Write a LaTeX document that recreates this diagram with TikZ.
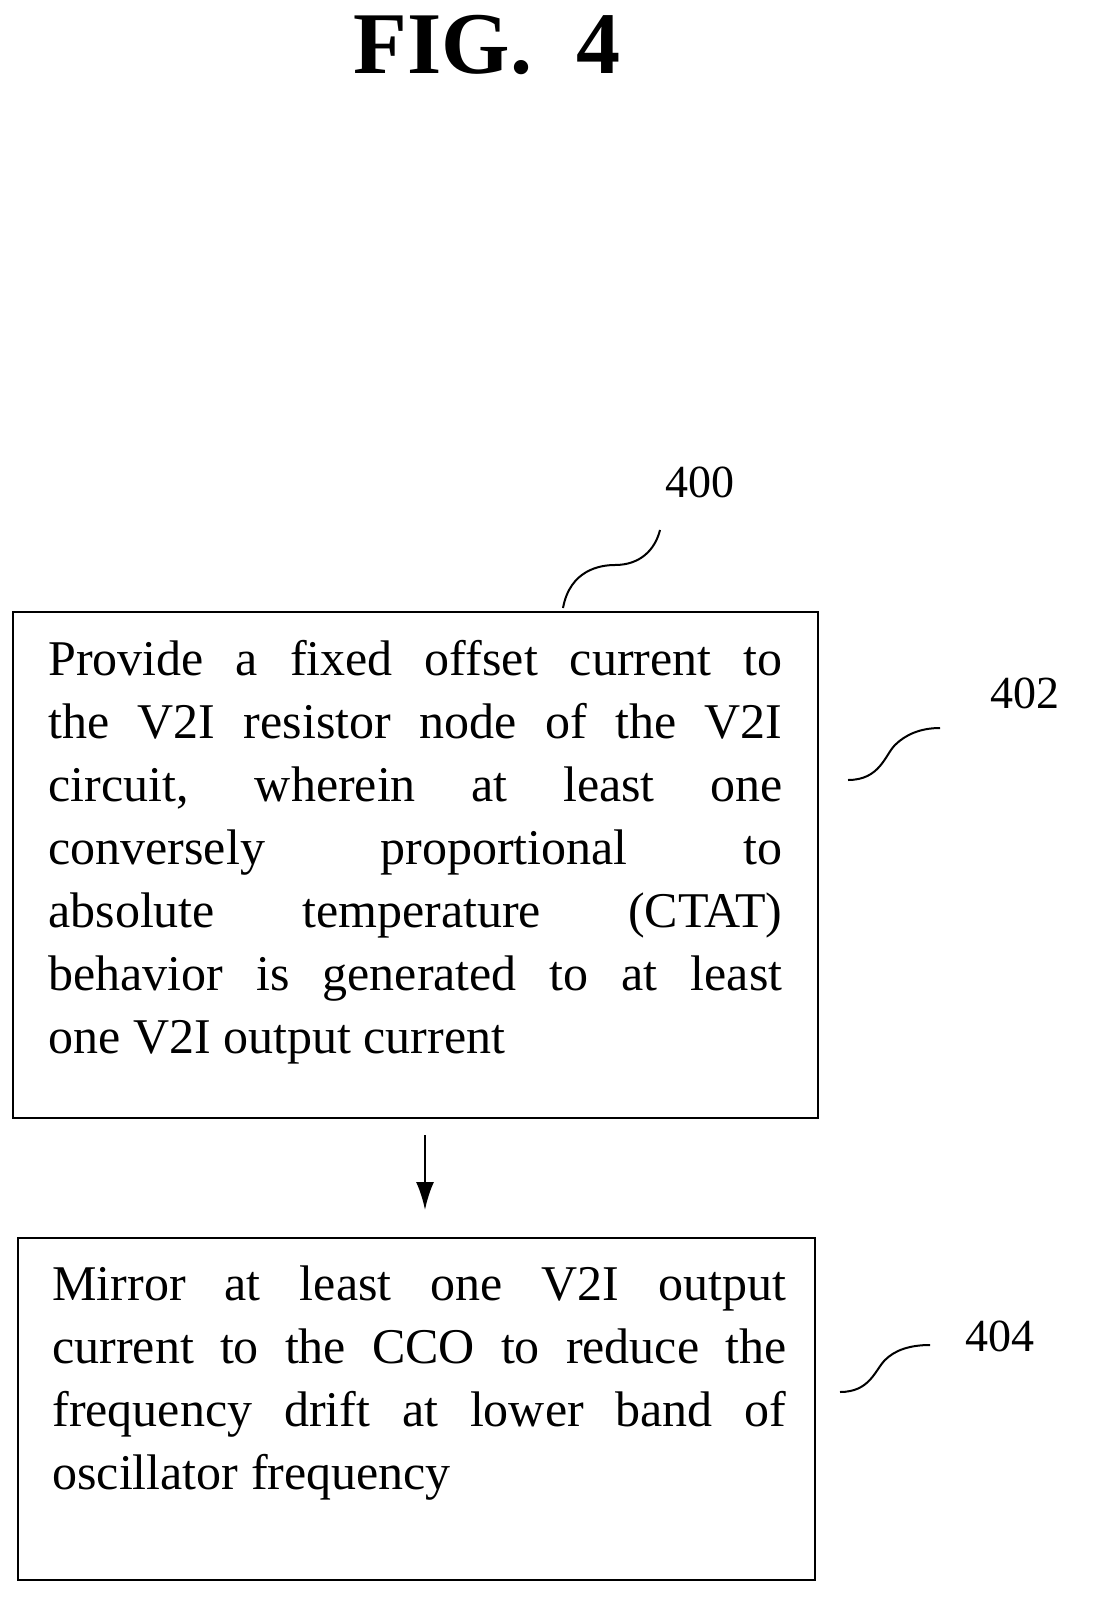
\documentclass[tikz,border=0pt]{standalone}
\usepackage{fontspec}
\setmainfont{Liberation Serif}
\usetikzlibrary{arrows.meta}
\newcommand{\jl}[1]{\makebox[367pt][s]{#1}\\}
\begin{document}
\begin{tikzpicture}[x=0.5pt,y=-0.5pt,
  box/.style={draw,line width=1.2pt},
  txt/.style={align=left,font=\fontsize{25pt}{31.5pt}\selectfont,inner sep=0pt,anchor=north west},
  lbl/.style={font=\fontsize{23pt}{26pt}\selectfont,inner sep=0pt},
  sq/.style={line width=1pt}]
\useasboundingbox (0,0) rectangle (1100,1610);
\node[font=\fontsize{44pt}{50pt}\bfseries\selectfont] (title) at (487,45) {FIG.\ \ 4};
\draw[box] (13,612) rectangle (818,1118);
\draw[box] (18,1238) rectangle (815,1580);
\node[txt] (t1) at (48,640) {\jl{Provide a fixed offset current to}\jl{the V2I resistor node of the V2I}\jl{circuit, wherein at least one}\jl{conversely proportional to}\jl{absolute temperature (CTAT)}\jl{behavior is generated to at least}one V2I output current};
\node[txt] (t2) at (52,1265) {\jl{Mirror at least one V2I output}\jl{current to the CCO to reduce the}\jl{frequency drift at lower band of}oscillator frequency};
\coordinate (a1) at (425,1135); \coordinate (a2) at (425,1210);
\draw[line width=1.2pt,-{Latex[length=14pt,width=9pt]}] (a1) -- (a2);
\node[lbl] (l400) at (700,482) {400};
\node[lbl] (l402) at (1025,693) {402};
\node[lbl] (l404) at (1000,1336) {404};
\coordinate (s0a) at (563,608); \coordinate (s0b) at (660,530);
\draw[sq] (s0a) .. controls (570,570) and (600,565) .. (615,565) .. controls (640,565) and (655,550) .. (s0b);
\coordinate (s2a) at (848,780); \coordinate (s2b) at (940,728);
\draw[sq] (s2a) .. controls (880,780) and (885,755) .. (895,745) .. controls (905,735) and (920,728) .. (s2b);
\coordinate (s4a) at (840,1392); \coordinate (s4b) at (930,1345);
\draw[sq] (s4a) .. controls (870,1392) and (875,1370) .. (885,1360) .. controls (895,1350) and (910,1345) .. (s4b);
\end{tikzpicture}
\end{document}
